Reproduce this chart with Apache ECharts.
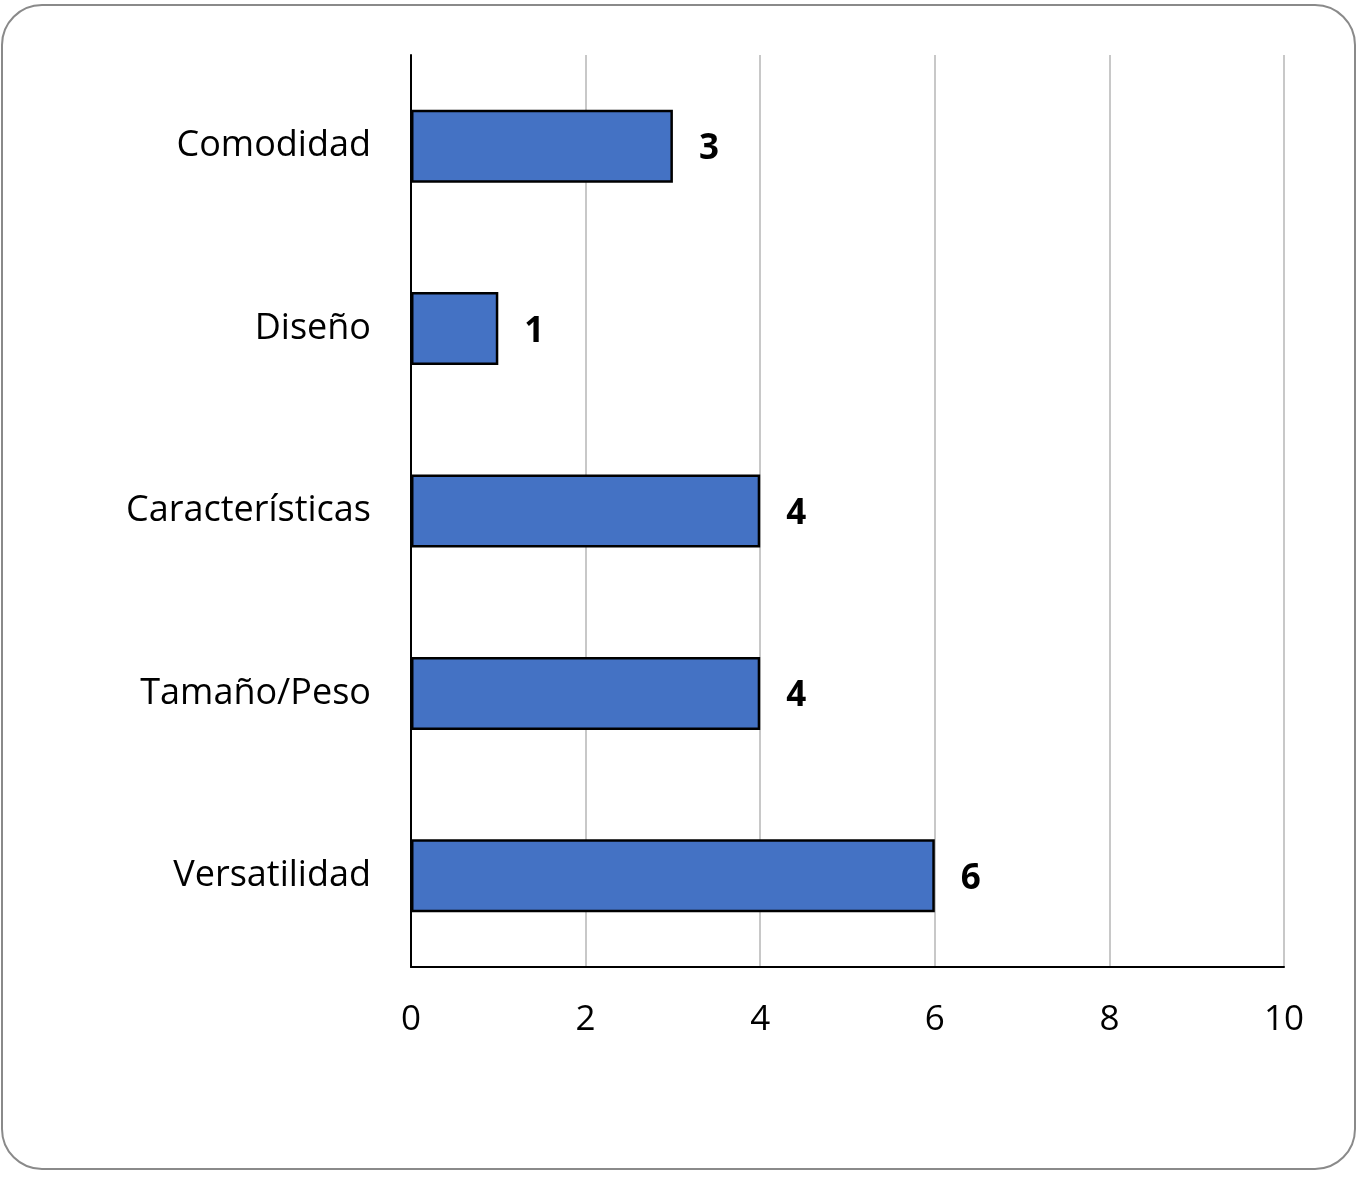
<!DOCTYPE html>
<html>
<head>
<meta charset="utf-8">
<script src="https://cdn.jsdelivr.net/npm/echarts@6/dist/echarts.min.js"></script>
<style>
html,body{margin:0;padding:0;background:#fff;}
#chart{width:1361px;height:1177px;}
</style>
</head>
<body>
<div id="chart"></div>
<script>
const categories = ["Comodidad", "Diseño", "Características", "Tamaño/Peso", "Versatilidad"];
const values = [3, 1, 4, 4, 6];
const xTicks = [0, 2, 4, 6, 8, 10];

const chart = echarts.init(document.getElementById('chart'), null, {renderer: 'canvas'});
const font = '"Open Sans", "Noto Sans", sans-serif';
chart.setOption({
  animation: false,
  backgroundColor: '#ffffff',
  graphic: [{
    type: 'rect',
    shape: {x: 2, y: 5, width: 1353, height: 1164, r: 40},
    style: {fill: 'none', stroke: '#8a8a8a', lineWidth: 2},
    z: -10
  }],
  grid: {left: 411, right: 77, top: 55, bottom: 210, containLabel: false},
  xAxis: {
    type: 'value',
    min: xTicks[0],
    max: xTicks[xTicks.length - 1],
    interval: 2,
    axisLine: {show: true, lineStyle: {color: '#000', width: 2}},
    axisTick: {show: false},
    splitLine: {show: true, lineStyle: {color: '#c8c8c8', width: 2}},
    axisLabel: {color: '#000', fontSize: 35, fontFamily: font, margin: 36}
  },
  yAxis: {
    type: 'category',
    inverse: true,
    data: categories,
    axisLine: {show: true, lineStyle: {color: '#000', width: 2}},
    axisTick: {show: false},
    axisLabel: {color: '#000', fontSize: 36, fontFamily: font, margin: 40}
  },
  series: [{
    type: 'bar',
    data: values,
    barCategoryGap: '60%',
    itemStyle: {color: '#4472C4', borderColor: '#000', borderWidth: 2.5},
    label: {
      show: true,
      position: 'right',
      distance: 26,
      offset: [0, 3],
      color: '#000',
      fontSize: 35,
      fontWeight: 'bold',
      fontFamily: font
    }
  }]
});
</script>
</body>
</html>
